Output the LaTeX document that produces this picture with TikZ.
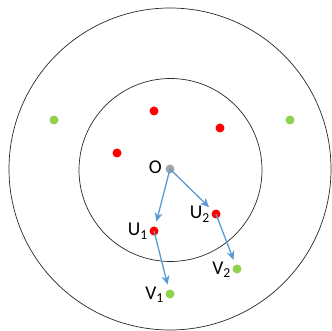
\documentclass[tikz,border=0pt]{standalone}
\usepackage{fontspec}
\setmainfont{Carlito}
\usetikzlibrary{arrows.meta}
\definecolor{dotred}{RGB}{255,0,0}
\definecolor{dotgreen}{RGB}{146,208,80}
\definecolor{dotgray}{RGB}{166,166,166}
\definecolor{arrowblue}{RGB}{91,155,213}
\tikzset{
  dot/.style={circle,inner sep=0pt,minimum size=9pt,draw=none},
  lbl/.style={inner sep=0pt,anchor=base east,font=\fontsize{19.5}{22}\selectfont},
  link/.style={draw=arrowblue,line width=1.3pt,-{Stealth[length=9pt,width=8pt,inset=3pt]},shorten >=5pt}
}
\begin{document}
\begin{tikzpicture}[x=1pt,y=-1pt]
\path[use as bounding box,fill=white] (0,0) rectangle (332,331);
\draw[line width=0.7pt,draw={rgb,255:red,40;green,40;blue,40}] (170,169) circle (161);
\draw[line width=0.7pt,draw={rgb,255:red,40;green,40;blue,40}] (170.5,170) circle (91.5);
% scattered dots
\node[dot,fill=dotred] (r1) at (154,111) {};
\node[dot,fill=dotred] (r2) at (220,128) {};
\node[dot,fill=dotred] (r3) at (117,153) {};
\node[dot,fill=dotgreen] (g1) at (54,120) {};
\node[dot,fill=dotgreen] (g2) at (290,120) {};
% centre and paths
\node[dot,fill=dotgray] (O) at (170,169) {};
\node[dot,fill=dotred] (U1) at (154,231) {};
\node[dot,fill=dotred] (U2) at (216,214) {};
\node[dot,fill=dotgreen] (V1) at (170,294) {};
\node[dot,fill=dotgreen] (V2) at (237,269) {};
\node[lbl] (lO) at (162,174) {O};
\node[lbl] (lU1) at (148,236) {U\textsubscript{1}};
\node[lbl] (lU2) at (210,219) {U\textsubscript{2}};
\node[lbl] (lV1) at (164,299) {V\textsubscript{1}};
\node[lbl] (lV2) at (231,274) {V\textsubscript{2}};
\draw[link] (O.center) -- (U1);
\draw[link] (O.center) -- (U2);
\draw[link] (U1.center) -- (V1);
\draw[link] (U2.center) -- (V2);
\end{tikzpicture}
\end{document}
